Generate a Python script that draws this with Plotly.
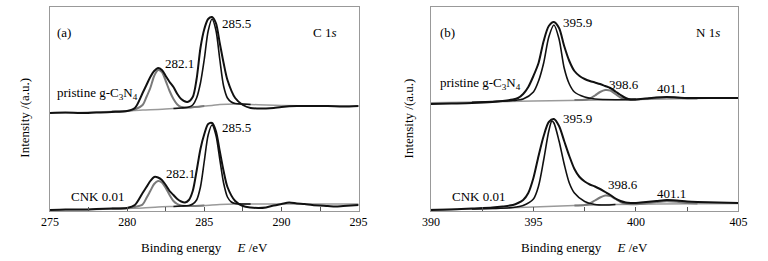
import plotly.graph_objects as go

# ---------------- C 1s panel (a) ----------------
c1s_raw_x = [275, 276, 277, 278, 279, 280, 280.5, 281, 281.25, 281.5, 281.75, 282, 282.25, 282.5, 282.75, 283,
             283.25, 283.5, 283.9, 284.25, 284.5, 284.75, 285, 285.25, 285.5, 285.75, 286, 286.25, 286.5, 287,
             287.5, 288, 288.5, 289, 289.5, 290, 291, 292, 293, 294, 295]
c1s_pristine_raw = [98, 98.5, 98, 98.5, 99, 100, 103, 118, 126, 134, 140, 143, 141, 135, 129, 124,
                    117, 112, 109, 114, 132, 163, 182, 192, 194, 188, 168, 148, 131, 113,
                    106, 103, 102.5, 102.5, 103, 104, 105, 105, 105, 104.5, 105]

c1s_cnk_raw_x = [275, 276, 277, 278, 279, 280, 280.5, 281, 281.25, 281.5, 281.75, 282, 282.25, 282.5, 282.75,
                 283, 283.25, 283.5, 283.75, 284, 284.25, 284.5, 284.75, 285, 285.25, 285.5, 285.75, 286,
                 286.25, 286.5, 287, 287.5, 288, 288.5, 289, 289.5, 290, 290.5, 291, 291.5, 292, 293,
                 293.5, 294, 295]
c1s_cnk_raw = [1, 1.5, 1.5, 2, 2.5, 3, 6, 18, 24, 30, 34, 33.5, 31, 26, 20,
               16, 12, 9.5, 8.5, 11, 20, 40, 62, 77, 87, 88, 80, 60,
               40, 24, 10, 5, 3.5, 3, 3.5, 5.5, 7, 8.5, 7.5, 7, 6, 5,
               4.5, 5, 6]

c1s_peak1_x = [279, 280, 280.5, 281, 281.25, 281.5, 281.75, 282, 282.25, 282.5, 282.75, 283, 283.25, 283.5,
               284, 285]
c1s_pristine_peak1 = [99.5, 100, 101.5, 106, 114, 123, 135, 141, 139, 130, 120, 112, 106.5, 104, 103.5, 105]
c1s_cnk_peak1 = [2.5, 3, 4, 6.5, 13, 20, 27, 30, 28.5, 23, 16, 10, 7, 5.5, 5, 5.5]

c1s_peak2_x = [283, 283.5, 284, 284.25, 284.5, 284.75, 285, 285.25, 285.5, 285.75, 286, 286.25, 286.5,
               286.75, 287, 287.5, 288]
c1s_pristine_peak2 = [102.5, 103, 104, 106, 113, 128, 152, 180, 192, 181, 152, 125, 113, 109, 107.5, 107, 106.5]
c1s_cnk_peak2 = [4.5, 5, 5.5, 7, 11, 24, 50, 76, 86, 76, 52, 28, 14, 9, 7.5, 7, 7]

c1s_pristine_bg_x = [275, 277, 279, 280, 281, 282, 283, 284, 285, 285.5, 286, 287, 288, 289, 290, 292, 295]
c1s_pristine_bg = [98, 98.5, 99.5, 100, 101, 101.5, 102.5, 103.5, 105, 105.5, 106.5, 107, 106.5, 106, 105.5, 105, 105]
c1s_cnk_bg_x = [275, 278, 280, 281, 282, 283, 284, 285, 286, 287, 288, 290, 295]
c1s_cnk_bg = [1, 1.5, 2.5, 3, 4, 4.5, 5, 5.5, 6.5, 7, 7, 7, 7]

# ---------------- N 1s panel (b) ----------------
n1s_raw_x = [390, 391, 392, 393, 393.5, 394, 394.25, 394.5, 394.75, 395, 395.25, 395.5, 395.75, 396,
             396.25, 396.5, 396.75, 397, 397.25, 397.5, 397.75, 398, 398.25, 398.5, 398.75, 399, 399.25,
             399.5, 399.75, 400, 400.5, 401, 401.5, 402, 402.5, 403, 404, 405]
n1s_pristine_raw = [107, 107.5, 108, 109, 110, 111.5, 113, 117, 124, 135, 148, 170, 185, 189,
                    183, 165, 150, 140, 135, 132, 130, 128.5, 127, 125, 123, 119.5, 116,
                    113, 111.5, 111.5, 112.5, 113.5, 114, 113.5, 113, 113, 113, 113]
n1s_cnk_raw = [1, 1.5, 2.5, 3.5, 4.5, 6, 8, 11, 18, 33, 55, 75, 89, 92,
               85, 70, 55, 42, 34, 29.5, 26.5, 24.5, 22, 19, 16, 12.5, 10,
               8.5, 8, 8, 9, 10, 11, 10.5, 9.5, 9, 8.5, 8]

n1s_pristine_peak1_x = [392, 393, 394, 394.5, 395, 395.25, 395.5, 395.75, 396, 396.25, 396.5, 396.75, 397,
                        397.5, 398, 399, 400]
n1s_pristine_peak1 = [108.8, 109.5, 110.5, 112, 119, 130, 148, 174, 186, 172, 143, 127, 119, 114, 112, 111.3, 111.6]
n1s_cnk_peak1_x = [392, 393, 394, 394.5, 395, 395.25, 395.5, 395.75, 395.9, 396, 396.25, 396.5, 396.75, 397,
                   397.5, 398, 398.5, 399]
n1s_cnk_peak1 = [2, 2.5, 3.5, 5.5, 12, 25, 51, 80, 90, 88, 70, 47, 28, 18, 9.5, 6.5, 6, 6.5]

n1s_peak2_x = [397, 397.5, 397.75, 398, 398.25, 398.5, 398.75, 399, 399.25, 399.5, 400]
n1s_pristine_peak2 = [111, 111.2, 112.5, 115.5, 119, 121, 120.5, 117, 113.5, 112, 111.6]
n1s_cnk_peak2 = [5.5, 6, 7.5, 10.5, 13.5, 15.5, 15, 12, 9, 7.2, 6.8]

n1s_peak3_x = [400, 400.5, 401, 401.5, 402, 402.5, 403]
n1s_pristine_peak3 = [111.6, 112.2, 113.2, 113.8, 113.3, 112.6, 112.5]
n1s_cnk_peak3 = [6.8, 7.8, 9, 9.8, 9.2, 8, 7.5]

n1s_pristine_bg_x = [390, 395, 400, 405]
n1s_pristine_bg = [108.3, 110, 111.6, 113.3]
n1s_cnk_bg_x = [390, 393, 395, 397, 399, 401, 405]
n1s_cnk_bg = [1.5, 2.5, 4, 5.5, 6.5, 7, 7.5]

c1s_ticks = [275, 277.5, 280, 282.5, 285, 287.5, 290, 292.5, 295]
n1s_ticks = [390, 392.5, 395, 397.5, 400, 402.5, 405]

FONT = "'Liberation Serif', 'Times New Roman', Times, 'DejaVu Serif', serif"
BLACK = "#111111"
GRAY = "#7a7a7a"
BG = "#9a9a9a"
TXT = "#000000"

fig = go.Figure()


def add(x, y, color, width, xa, ya):
    fig.add_trace(go.Scatter(x=x, y=y, mode="lines", xaxis=xa, yaxis=ya,
                             line=dict(color=color, width=width, shape="spline", smoothing=0.8),
                             showlegend=False, hoverinfo="skip"))


# panel (a)
add(c1s_pristine_bg_x, c1s_pristine_bg, BG, 1.5, "x", "y")
add(c1s_cnk_bg_x, c1s_cnk_bg, BG, 1.5, "x", "y")
add(c1s_peak1_x, c1s_pristine_peak1, GRAY, 2, "x", "y")
add(c1s_peak1_x, c1s_cnk_peak1, GRAY, 2, "x", "y")
add(c1s_peak2_x, c1s_pristine_peak2, BLACK, 1.6, "x", "y")
add(c1s_peak2_x, c1s_cnk_peak2, BLACK, 1.6, "x", "y")
add(c1s_raw_x, c1s_pristine_raw, BLACK, 2, "x", "y")
add(c1s_cnk_raw_x, c1s_cnk_raw, BLACK, 2, "x", "y")

# panel (b)
add(n1s_pristine_bg_x, n1s_pristine_bg, BG, 1.5, "x2", "y2")
add(n1s_cnk_bg_x, n1s_cnk_bg, BG, 1.5, "x2", "y2")
add(n1s_peak2_x, n1s_pristine_peak2, GRAY, 2, "x2", "y2")
add(n1s_peak2_x, n1s_cnk_peak2, GRAY, 2, "x2", "y2")
add(n1s_peak3_x, n1s_pristine_peak3, GRAY, 2, "x2", "y2")
add(n1s_peak3_x, n1s_cnk_peak3, GRAY, 2, "x2", "y2")
add(n1s_pristine_peak1_x, n1s_pristine_peak1, BLACK, 1.6, "x2", "y2")
add(n1s_cnk_peak1_x, n1s_cnk_peak1, BLACK, 1.6, "x2", "y2")
add(n1s_raw_x, n1s_pristine_raw, BLACK, 2, "x2", "y2")
add(n1s_raw_x, n1s_cnk_raw, BLACK, 2, "x2", "y2")

W, H = 768, 261
frame = dict(showline=True, mirror=True, linecolor="#999999", linewidth=1, showgrid=False, zeroline=False)
xticks = dict(ticks="inside", ticklen=4, tickcolor="#555555", tickwidth=1,
              tickfont=dict(family=FONT, size=12, color=TXT))


def ticktext(vals):
    return [str(int(v)) if float(v).is_integer() and int(v) % 5 == 0 else "" for v in vals]


fig.update_layout(
    width=W, height=H, margin=dict(l=0, r=0, t=0, b=0),
    paper_bgcolor="white", plot_bgcolor="white",
    font=dict(family=FONT, color=TXT),
    xaxis=dict(domain=[42 / W, 358 / W], range=[275, 295], tickvals=c1s_ticks,
               ticktext=ticktext(c1s_ticks), anchor="y", **frame, **xticks),
    yaxis=dict(domain=[50 / H, 254 / H], range=[0, 204], showticklabels=False, ticks="",
               anchor="x", **frame),
    xaxis2=dict(domain=[432 / W, 747 / W], range=[390, 405], tickvals=n1s_ticks,
                ticktext=ticktext(n1s_ticks), anchor="y2", **frame, **xticks),
    yaxis2=dict(domain=[50 / H, 254 / H], range=[0, 204], showticklabels=False, ticks="",
                anchor="x2", **frame),
)

txt = dict(family=FONT, size=13, color=TXT)


def label(text, x, y, xref, yref, xanchor="left"):
    fig.add_annotation(text=text, x=x, y=y, xref=xref, yref=yref, xanchor=xanchor, yanchor="middle",
                       showarrow=False, font=txt, borderpad=0)


# panel (a) labels
label("(a)", 275.38, 179, "x", "y")
label("C 1<i>s</i>", 292.0, 179, "x", "y")
label("285.5", 286.1, 188, "x", "y")
label("285.5", 286.1, 84, "x", "y")
label("282.1", 282.4, 148, "x", "y")
label("282.1", 282.45, 38, "x", "y")
label("pristine g-C<sub>3</sub>N<sub>4</sub>", 275.38, 118, "x", "y")
label("CNK 0.01", 276.3, 15, "x", "y")

# panel (b) labels
label("(b)", 390.38, 179, "x2", "y2")
label("N 1<i>s</i>", 402.9, 179, "x2", "y2")
label("395.9", 396.38, 189, "x2", "y2")
label("395.9", 396.38, 93, "x2", "y2")
label("398.6", 398.65, 127, "x2", "y2")
label("401.1", 401.0, 123, "x2", "y2")
label("398.6", 398.57, 27, "x2", "y2")
label("401.1", 401.0, 18, "x2", "y2")
label("pristine g-C<sub>3</sub>N<sub>4</sub>", 390.38, 128, "x2", "y2")
label("CNK 0.01", 391.0, 15, "x2", "y2")

# axis titles
xtitle = "Binding energy&nbsp;&nbsp;&nbsp;&nbsp;&nbsp;<i>E</i> /eV"
for cx in (200, 589.5):
    fig.add_annotation(text=xtitle, x=cx / W, y=(H - 247) / H, xref="paper", yref="paper",
                       xanchor="center", yanchor="middle", showarrow=False, font=txt)
for cx in (15, 409):
    fig.add_annotation(text="Intensity /(a.u.)", x=cx / W, y=(H - 118) / H, xref="paper", yref="paper",
                       xanchor="center", yanchor="middle", textangle=-90, showarrow=False, font=txt)

fig.write_html("out.html", config={"displayModeBar": False},
               post_script="document.body.style.margin='0';document.body.style.overflow='hidden';")
